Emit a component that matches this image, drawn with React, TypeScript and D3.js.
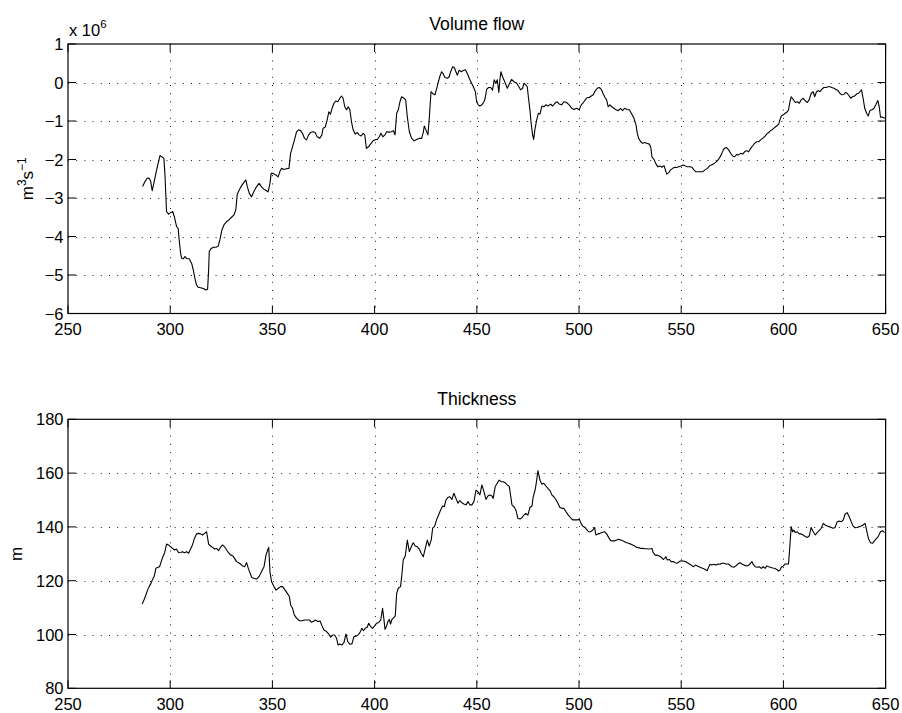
import React from "react";
import * as d3 from "d3";

// Volume flow, in units of 10^6 m^3 s^-1
const flowDays = [
  286.5, 287.6, 288.8, 289.8, 290.5, 291.2, 292.0, 293.0, 294.0, 295.0, 296.0, 296.9, 297.4, 297.9, 298.2,
  299.2, 300.2, 301.2, 302.0, 303.1, 303.9, 304.4, 305.1, 305.6, 306.4, 307.2, 308.0, 309.3, 310.5, 311.3,
  312.1, 312.9, 313.7, 314.9, 316.2, 317.5, 318.3, 318.8, 319.1, 319.9, 321.1, 322.4, 323.5, 324.3, 325.3,
  326.3, 327.6, 328.7, 330.0, 331.2, 332.1, 332.8, 333.6, 334.4, 335.2, 336.0, 337.0, 337.7, 338.7, 339.8,
  340.9, 342.2, 343.5, 344.7, 345.8, 347.1, 347.9, 348.8, 349.4, 350.4, 351.7, 352.8, 353.6, 354.5, 355.6,
  356.9, 358.1, 358.9, 359.8, 360.8, 361.8, 362.8, 363.8, 364.7, 365.7, 366.7, 367.7, 368.6, 369.9, 370.9,
  371.9, 373.2, 374.2, 374.8, 375.8, 376.8, 377.6, 378.4, 379.2, 380.1, 381.0, 382.0, 383.0, 383.8, 384.6,
  385.4, 386.3, 387.1, 387.9, 388.7, 389.5, 390.5, 391.5, 392.4, 393.4, 394.4, 395.2, 396.0, 397.0, 398.0,
  399.3, 400.6, 401.3, 402.3, 403.1, 404.0, 405.1, 405.9, 407.2, 408.2, 409.2, 410.0, 410.8, 411.6, 412.4,
  413.2, 414.4, 415.2, 416.0, 417.0, 418.1, 419.3, 420.6, 421.9, 423.0, 423.8, 424.3, 425.1, 426.1, 426.8,
  427.6, 428.7, 429.5, 430.4, 431.2, 432.0, 432.8, 433.6, 434.4, 435.6, 436.5, 437.2, 438.2, 439.0, 439.8,
  440.5, 441.4, 442.4, 443.4, 444.4, 445.3, 446.3, 447.3, 448.3, 449.3, 449.9, 450.7, 451.5, 452.5, 453.5,
  454.1, 454.8, 455.8, 456.8, 457.7, 458.5, 459.4, 460.0, 460.8, 461.3, 461.8, 462.6, 463.8, 464.9, 465.9,
  467.0, 468.2, 469.5, 470.6, 471.4, 472.4, 473.1, 474.0, 474.7, 475.3, 476.0, 476.6, 477.3, 477.8, 478.4,
  479.3, 480.1, 480.9, 481.9, 482.8, 483.8, 484.9, 486.1, 487.1, 488.2, 489.4, 490.3, 491.5, 492.6, 493.9,
  495.2, 496.4, 497.5, 498.8, 500.1, 501.1, 502.1, 503.1, 504.0, 505.0, 506.0, 507.0, 508.0, 508.9, 509.9,
  510.9, 511.9, 512.7, 513.5, 514.3, 515.1, 516.0, 517.1, 518.1, 519.2, 520.3, 521.3, 522.3, 523.6, 524.6,
  525.8, 526.9, 527.9, 528.5, 529.2, 530.2, 531.1, 532.1, 533.1, 534.4, 535.1, 535.7, 536.7, 537.7, 538.6,
  539.6, 540.6, 541.6, 542.9, 543.9, 544.8, 545.8, 547.0, 547.8, 548.7, 549.9, 551.0, 552.0, 553.0, 554.3,
  555.3, 556.2, 557.2, 558.2, 559.2, 560.5, 561.6, 562.8, 563.8, 564.7, 565.7, 566.7, 567.7, 568.6, 569.6,
  570.6, 571.2, 572.2, 573.2, 574.2, 575.2, 576.1, 577.1, 578.1, 579.1, 580.1, 581.0, 582.0, 583.0, 584.0,
  584.9, 585.9, 586.9, 587.9, 588.8, 589.8, 590.8, 591.8, 592.8, 593.7, 594.7, 595.7, 596.7, 597.7, 598.3,
  599.0, 599.9, 600.9, 601.9, 602.5, 603.2, 603.8, 604.8, 605.8, 606.8, 607.8, 608.7, 609.7, 610.7, 611.7,
  612.6, 613.6, 614.6, 615.3, 616.2, 617.2, 617.9, 618.8, 619.8, 620.8, 621.8, 622.8, 623.7, 624.7, 625.7,
  626.7, 627.6, 628.6, 629.6, 630.4, 631.2, 632.2, 632.9, 633.8, 634.8, 635.8, 636.8, 637.4, 638.2, 639.0,
  639.8, 640.7, 641.5, 642.3, 643.3, 644.3, 645.2, 646.2, 646.9, 647.5, 648.5, 649.6,
];
const flowValues = [
  -2.70, -2.58, -2.48, -2.49, -2.58, -2.81, -2.62, -2.36, -2.12, -1.90, -1.93, -1.97, -2.36, -2.97, -3.35,
  -3.42, -3.38, -3.35, -3.48, -3.74, -3.79, -4.09, -4.44, -4.57, -4.58, -4.52, -4.57, -4.58, -4.70, -4.87,
  -5.09, -5.26, -5.32, -5.33, -5.35, -5.39, -5.37, -4.87, -4.39, -4.32, -4.28, -4.28, -4.25, -4.09, -3.83,
  -3.70, -3.61, -3.57, -3.50, -3.44, -3.31, -2.90, -2.81, -2.73, -2.66, -2.60, -2.53, -2.70, -2.88, -2.97,
  -2.84, -2.71, -2.62, -2.71, -2.77, -2.81, -2.84, -2.62, -2.36, -2.36, -2.40, -2.45, -2.32, -2.23, -2.26,
  -2.24, -2.23, -1.84, -1.68, -1.49, -1.28, -1.23, -1.25, -1.32, -1.45, -1.49, -1.36, -1.30, -1.28, -1.30,
  -1.41, -1.45, -1.36, -1.19, -1.16, -0.97, -0.76, -0.82, -0.67, -0.54, -0.48, -0.50, -0.41, -0.35, -0.41,
  -0.63, -0.71, -0.63, -0.71, -1.02, -1.23, -1.34, -1.30, -1.36, -1.39, -1.32, -1.36, -1.71, -1.67, -1.60,
  -1.51, -1.48, -1.48, -1.41, -1.32, -1.41, -1.36, -1.28, -1.29, -1.28, -1.25, -1.36, -0.80, -0.71, -0.50,
  -0.37, -0.41, -0.45, -0.89, -1.28, -1.45, -1.51, -1.48, -1.45, -1.45, -1.30, -1.13, -1.23, -1.36, -0.89,
  -0.24, -0.30, -0.32, -0.15, 0.02, 0.17, 0.28, 0.22, 0.13, 0.11, 0.15, 0.28, 0.41, 0.39, 0.28,
  0.19, 0.32, 0.28, 0.31, 0.33, 0.24, 0.11, 0.00, -0.11, -0.24, -0.50, -0.58, -0.61, -0.58, -0.50,
  -0.41, -0.18, -0.13, -0.13, -0.20, 0.07, -0.02, 0.07, -0.26, 0.07, 0.28, 0.15, 0.00, -0.15, -0.04,
  0.08, 0.02, -0.02, -0.11, -0.19, -0.15, -0.02, -0.06, -0.11, -0.41, -0.71, -1.06, -1.36, -1.48, -1.23,
  -0.97, -0.80, -0.82, -0.61, -0.63, -0.58, -0.61, -0.56, -0.61, -0.54, -0.50, -0.56, -0.58, -0.50, -0.52,
  -0.58, -0.67, -0.70, -0.67, -0.71, -0.58, -0.52, -0.45, -0.39, -0.39, -0.35, -0.32, -0.21, -0.15, -0.13,
  -0.18, -0.30, -0.39, -0.45, -0.63, -0.58, -0.63, -0.67, -0.71, -0.73, -0.67, -0.73, -0.67, -0.70, -0.71,
  -0.82, -0.93, -1.10, -1.32, -1.45, -1.54, -1.58, -1.56, -1.58, -1.60, -1.68, -1.93, -2.00, -2.12, -2.19,
  -2.17, -2.20, -2.16, -2.38, -2.34, -2.27, -2.23, -2.20, -2.21, -2.19, -2.17, -2.14, -2.17, -2.19, -2.19,
  -2.20, -2.27, -2.32, -2.32, -2.32, -2.32, -2.27, -2.23, -2.17, -2.14, -2.12, -2.08, -2.03, -1.97, -1.88,
  -1.75, -1.71, -1.69, -1.75, -1.84, -1.91, -1.93, -1.87, -1.88, -1.84, -1.86, -1.80, -1.77, -1.80, -1.71,
  -1.65, -1.58, -1.54, -1.54, -1.49, -1.45, -1.41, -1.34, -1.30, -1.25, -1.22, -1.17, -1.13, -1.08, -0.97,
  -0.87, -0.84, -0.80, -0.76, -0.71, -0.50, -0.37, -0.44, -0.52, -0.50, -0.54, -0.45, -0.41, -0.47, -0.52,
  -0.45, -0.28, -0.24, -0.37, -0.24, -0.21, -0.24, -0.18, -0.13, -0.13, -0.11, -0.11, -0.13, -0.15, -0.18,
  -0.21, -0.28, -0.32, -0.31, -0.26, -0.28, -0.35, -0.41, -0.37, -0.35, -0.30, -0.28, -0.24, -0.19, -0.41,
  -0.67, -0.80, -0.87, -0.73, -0.71, -0.67, -0.58, -0.47, -0.63, -0.90, -0.90, -0.93,
];

// Thickness, in m
const thicknessDays = [
  286.3, 287.3, 288.1, 288.9, 289.7, 290.6, 291.4, 292.2, 293.0, 294.0, 294.8, 295.6, 296.4, 297.3, 298.2,
  299.2, 300.2, 301.2, 302.1, 303.1, 304.1, 305.1, 306.0, 307.0, 308.0, 309.0, 309.9, 310.9, 311.9, 312.9,
  313.9, 314.9, 315.8, 316.8, 317.8, 318.8, 319.8, 320.7, 321.7, 322.7, 323.7, 324.6, 325.6, 326.6, 327.6,
  328.5, 329.5, 330.5, 331.5, 332.5, 333.4, 334.4, 335.4, 336.4, 337.4, 338.2, 339.0, 339.9, 341.0, 342.3,
  343.6, 344.7, 345.9, 346.9, 347.7, 348.2, 348.8, 349.6, 350.8, 351.8, 352.9, 354.0, 355.0, 356.2, 357.3,
  358.3, 358.9, 359.9, 360.7, 361.9, 363.2, 364.5, 365.8, 367.1, 368.1, 369.0, 370.0, 371.0, 372.3, 373.3,
  374.3, 375.2, 376.5, 377.5, 378.5, 379.5, 380.4, 381.4, 382.1, 383.0, 384.0, 385.0, 386.0, 386.9, 387.9,
  388.9, 389.9, 390.9, 391.9, 392.8, 393.8, 394.5, 395.4, 396.4, 397.1, 398.1, 399.0, 400.0, 401.0, 402.0,
  403.0, 403.9, 404.6, 405.1, 405.9, 406.5, 407.2, 407.8, 408.5, 409.5, 410.1, 410.8, 411.6, 412.7, 413.4,
  414.0, 415.0, 416.0, 417.0, 418.0, 418.9, 419.9, 420.9, 421.9, 422.8, 423.8, 424.8, 425.8, 426.7, 427.7,
  428.4, 429.4, 430.3, 431.3, 432.3, 433.3, 434.1, 434.9, 435.9, 436.8, 437.8, 438.8, 439.8, 440.8, 441.7,
  442.7, 443.7, 444.7, 445.7, 446.6, 447.6, 448.6, 449.6, 450.5, 451.5, 452.5, 453.5, 454.5, 455.4, 456.4,
  457.4, 458.0, 459.0, 460.0, 461.0, 461.9, 462.9, 463.9, 464.9, 465.9, 466.5, 467.2, 468.2, 469.1, 470.1,
  471.1, 472.1, 473.0, 474.0, 475.0, 476.0, 477.0, 477.6, 478.6, 479.2, 479.9, 480.9, 481.8, 482.8, 483.8,
  484.8, 485.8, 486.7, 487.7, 488.7, 489.7, 490.6, 491.6, 492.6, 493.6, 494.8, 495.9, 496.9, 498.0, 499.2,
  500.2, 501.0, 501.8, 502.9, 503.7, 504.7, 505.7, 506.7, 507.6, 508.3, 509.3, 510.3, 511.2, 512.5, 513.5,
  514.5, 515.5, 516.5, 517.4, 518.4, 519.4, 520.4, 521.3, 522.3, 523.3, 524.3, 525.3, 526.2, 527.2, 528.2,
  529.2, 530.1, 531.1, 532.1, 533.1, 534.1, 535.0, 535.7, 536.3, 537.3, 538.3, 539.3, 540.3, 541.2, 541.9,
  542.5, 543.2, 544.2, 545.1, 546.1, 547.1, 548.1, 549.1, 550.0, 551.0, 552.0, 553.0, 554.0, 554.9, 555.9,
  556.9, 557.9, 558.8, 559.8, 560.8, 561.8, 562.7, 563.4, 564.1, 565.0, 566.0, 567.0, 568.0, 569.0, 569.9,
  570.9, 571.9, 572.9, 573.8, 574.8, 575.8, 576.8, 577.7, 578.7, 579.7, 580.7, 581.7, 582.6, 583.6, 584.6,
  585.2, 586.2, 587.2, 588.2, 589.2, 590.1, 591.1, 591.8, 592.7, 593.7, 594.7, 595.7, 596.7, 597.6, 598.3,
  599.0, 599.9, 600.9, 601.9, 602.5, 603.2, 603.8, 604.5, 605.1, 605.8, 606.8, 607.7, 608.7, 609.7, 610.7,
  611.7, 612.6, 613.6, 614.6, 615.6, 616.5, 617.5, 618.5, 619.5, 620.4, 621.4, 622.4, 623.4, 624.4, 625.3,
  626.3, 627.3, 628.3, 629.3, 630.2, 631.2, 632.2, 633.2, 634.1, 635.1, 636.1, 637.1, 638.1, 639.0, 640.0,
  640.7, 641.6, 642.6, 643.6, 644.6, 645.6, 646.5, 647.5, 648.5, 649.5,
];
const thicknessValues = [
  111.3, 113.1, 114.7, 116.5, 117.8, 119.0, 120.5, 121.7, 124.6, 125.0, 125.2, 127.1, 128.9, 130.4, 133.6,
  133.3, 132.6, 132.0, 131.4, 131.8, 130.4, 130.5, 130.8, 130.4, 130.8, 130.2, 131.7, 133.3, 135.8, 137.4,
  137.6, 137.4, 137.0, 137.6, 138.2, 133.6, 132.9, 132.4, 131.8, 132.0, 131.2, 132.4, 133.3, 132.6, 131.4,
  130.4, 129.6, 129.3, 128.3, 127.1, 126.7, 126.2, 125.5, 125.2, 126.7, 124.6, 123.0, 121.2, 120.9, 120.6,
  121.7, 123.4, 125.2, 129.6, 131.4, 132.4, 123.4, 119.6, 117.8, 116.5, 117.2, 117.8, 117.8, 116.5, 115.3,
  114.1, 111.0, 109.7, 107.3, 106.0, 105.1, 105.1, 105.4, 105.4, 105.4, 104.6, 104.8, 105.4, 104.8, 105.0,
  103.2, 101.7, 101.1, 100.2, 99.0, 99.8, 99.8, 98.6, 96.1, 96.5, 96.1, 97.0, 100.2, 97.3, 96.4,
  96.5, 99.2, 99.4, 99.8, 100.7, 102.3, 101.4, 102.3, 102.7, 104.2, 102.9, 102.3, 103.2, 104.2, 104.5,
  105.4, 109.7, 105.4, 101.9, 103.2, 104.8, 105.6, 103.9, 105.6, 106.4, 106.9, 115.3, 117.2, 117.8, 122.7,
  127.7, 129.2, 135.1, 130.8, 132.7, 134.1, 132.9, 132.6, 131.7, 130.2, 128.9, 132.0, 135.1, 132.9, 135.1,
  139.5, 140.3, 142.6, 144.4, 146.3, 147.8, 147.5, 150.0, 151.0, 151.2, 150.2, 152.5, 150.6, 148.8, 149.8,
  149.0, 148.5, 148.2, 149.4, 148.2, 148.2, 149.4, 153.7, 153.1, 151.9, 155.6, 153.1, 150.2, 151.5, 151.9,
  151.5, 150.6, 155.0, 156.2, 157.4, 156.8, 156.8, 156.4, 155.6, 155.0, 151.9, 148.2, 147.5, 146.3, 143.2,
  142.9, 143.4, 144.4, 145.0, 144.4, 147.3, 147.8, 151.2, 154.0, 156.8, 160.9, 157.4, 155.9, 156.2, 155.2,
  154.3, 153.5, 151.9, 151.2, 150.2, 148.8, 147.3, 146.9, 146.9, 145.7, 144.4, 143.4, 142.6, 142.6, 142.6,
  142.8, 141.3, 140.3, 139.8, 139.1, 138.2, 138.2, 138.8, 139.8, 137.0, 137.4, 137.6, 137.9, 138.2, 137.4,
  136.1, 134.9, 134.8, 134.8, 135.1, 135.4, 135.1, 134.9, 134.5, 134.1, 133.9, 133.6, 133.3, 132.9, 132.4,
  132.3, 132.0, 132.0, 131.9, 131.9, 131.8, 131.9, 132.0, 130.4, 129.5, 129.5, 129.2, 128.7, 127.9, 128.3,
  128.9, 127.7, 127.9, 127.1, 127.1, 126.7, 126.5, 127.1, 127.4, 127.3, 127.1, 126.7, 126.2, 125.8, 125.2,
  125.8, 125.5, 125.2, 124.8, 124.5, 124.2, 123.7, 125.0, 126.1, 125.8, 126.1, 125.8, 126.2, 126.1, 126.5,
  126.5, 126.2, 126.2, 125.8, 125.2, 125.0, 125.5, 126.2, 126.7, 126.2, 125.8, 125.6, 125.5, 126.2, 127.1,
  126.1, 125.2, 125.0, 125.2, 124.6, 125.2, 124.6, 125.5, 125.2, 125.0, 124.7, 124.6, 124.2, 123.6, 124.0,
  125.0, 125.5, 126.2, 126.2, 126.2, 133.3, 140.1, 138.2, 138.8, 137.9, 138.2, 137.4, 137.4, 137.0, 136.4,
  136.1, 136.6, 139.8, 138.2, 137.0, 137.9, 138.6, 139.5, 141.3, 140.7, 140.3, 140.1, 139.8, 139.5, 139.8,
  141.9, 142.2, 141.9, 142.6, 144.8, 145.3, 143.8, 141.9, 140.3, 139.7, 139.8, 140.1, 140.3, 140.7, 141.3,
  138.8, 135.7, 134.1, 133.9, 134.9, 135.7, 136.6, 138.2, 138.6, 137.9,
];

const dayTicks = [250, 300, 350, 400, 450, 500, 550, 600, 650];
const flowTicks = [-6, -5, -4, -3, -2, -1, 0, 1];
const thicknessTicks = [80, 100, 120, 140, 160, 180];

const WIDTH = 902;
const HEIGHT = 713;
const PLOT_LEFT = 68;
const PLOT_RIGHT = 885.6;
const TICK_LEN = 8;
const FONT = "'Liberation Sans', Arial, Helvetica, sans-serif";

const tickText = (v: number) => (v < 0 ? "\u2212" + Math.abs(v) : String(v));

type PanelProps = {
  top: number;
  bottom: number;
  days: number[];
  values: number[];
  yDomain: [number, number];
  yTicks: number[];
  title: string;
  yLabel: React.ReactNode;
  yLabelX: number;
  exponent?: string;
};

function Panel({ top, bottom, days, values, yDomain, yTicks, title, yLabel, yLabelX, exponent }: PanelProps) {
  const x = d3.scaleLinear().domain([250, 650]).range([PLOT_LEFT, PLOT_RIGHT]);
  const y = d3.scaleLinear().domain(yDomain).range([bottom, top]);
  const pts: [number, number][] = days.map((d, i) => [d, values[i]]);
  const line = d3
    .line<[number, number]>()
    .x((p) => x(p[0]))
    .y((p) => y(p[1]));
  const midY = (top + bottom) / 2;
  const dotted = { stroke: "#222", strokeWidth: 1, strokeDasharray: "1 7.2" };

  return (
    <g>
      {/* grid */}
      {dayTicks.slice(1, -1).map((t) => (
        <line key={"gx" + t} x1={Math.round(x(t)) + 0.5} x2={Math.round(x(t)) + 0.5} y1={top} y2={bottom} {...dotted} />
      ))}
      {yTicks.slice(1, -1).map((t) => (
        <line key={"gy" + t} x1={PLOT_LEFT} x2={PLOT_RIGHT} y1={Math.round(y(t)) + 0.5} y2={Math.round(y(t)) + 0.5} {...dotted} />
      ))}

      {/* data */}
      <path d={line(pts) || ""} fill="none" stroke="#000" strokeWidth={1.1} strokeLinejoin="round" />

      {/* frame and ticks */}
      <rect x={PLOT_LEFT} y={top} width={PLOT_RIGHT - PLOT_LEFT} height={bottom - top} fill="none" stroke="#000" strokeWidth={1.2} />
      {dayTicks.map((t) => (
        <g key={"tx" + t}>
          <line x1={x(t)} x2={x(t)} y1={bottom} y2={bottom - TICK_LEN} stroke="#000" strokeWidth={1} />
          <line x1={x(t)} x2={x(t)} y1={top} y2={top + TICK_LEN} stroke="#000" strokeWidth={1} />
          <text x={x(t)} y={bottom + 21.5} textAnchor="middle" fontSize={16.5} fontFamily={FONT} fill="#000">
            {tickText(t)}
          </text>
        </g>
      ))}
      {yTicks.map((t) => (
        <g key={"ty" + t}>
          <line x1={PLOT_LEFT} x2={PLOT_LEFT + TICK_LEN} y1={y(t)} y2={y(t)} stroke="#000" strokeWidth={1} />
          <line x1={PLOT_RIGHT} x2={PLOT_RIGHT - TICK_LEN} y1={y(t)} y2={y(t)} stroke="#000" strokeWidth={1} />
          <text x={PLOT_LEFT - 4.5} y={y(t) + 6} textAnchor="end" fontSize={16.5} fontFamily={FONT} fill="#000">
            {tickText(t)}
          </text>
        </g>
      ))}

      {/* title and labels */}
      <text x={(PLOT_LEFT + PLOT_RIGHT) / 2} y={top - 14.5} textAnchor="middle" fontSize={17.6} fontFamily={FONT} fill="#000">
        {title}
      </text>
      <text
        transform={`translate(${yLabelX},${midY}) rotate(-90)`}
        textAnchor="middle"
        fontSize={17}
        fontFamily={FONT}
        fill="#000"
      >
        {yLabel}
      </text>
      {exponent && (
        <text x={PLOT_LEFT + 1} y={top - 8} fontSize={16.5} fontFamily={FONT} fill="#000">
          x 10
          <tspan dy={-8} fontSize={11.5}>
            {exponent}
          </tspan>
        </text>
      )}
    </g>
  );
}

export default function App() {
  return (
    <svg
      width={WIDTH}
      height={HEIGHT}
      viewBox={`0 0 ${WIDTH} ${HEIGHT}`}
      style={{ position: "absolute", left: 0, top: 0, background: "#fff" }}
    >
      <rect width={WIDTH} height={HEIGHT} fill="#fff" />
      <Panel
        top={44}
        bottom={313.5}
        days={flowDays}
        values={flowValues}
        yDomain={[-6, 1]}
        yTicks={flowTicks}
        title="Volume flow"
        yLabelX={33}
        exponent="6"
        yLabel={
          <>
            m
            <tspan dy={-7} fontSize={12}>3</tspan>
            <tspan dy={7}>s</tspan>
            <tspan dy={-7} fontSize={12}>{"\u22121"}</tspan>
          </>
        }
      />
      <Panel
        top={419.3}
        bottom={688.3}
        days={thicknessDays}
        values={thicknessValues}
        yDomain={[80, 180]}
        yTicks={thicknessTicks}
        title="Thickness"
        yLabelX={22}
        yLabel="m"
      />
    </svg>
  );
}
